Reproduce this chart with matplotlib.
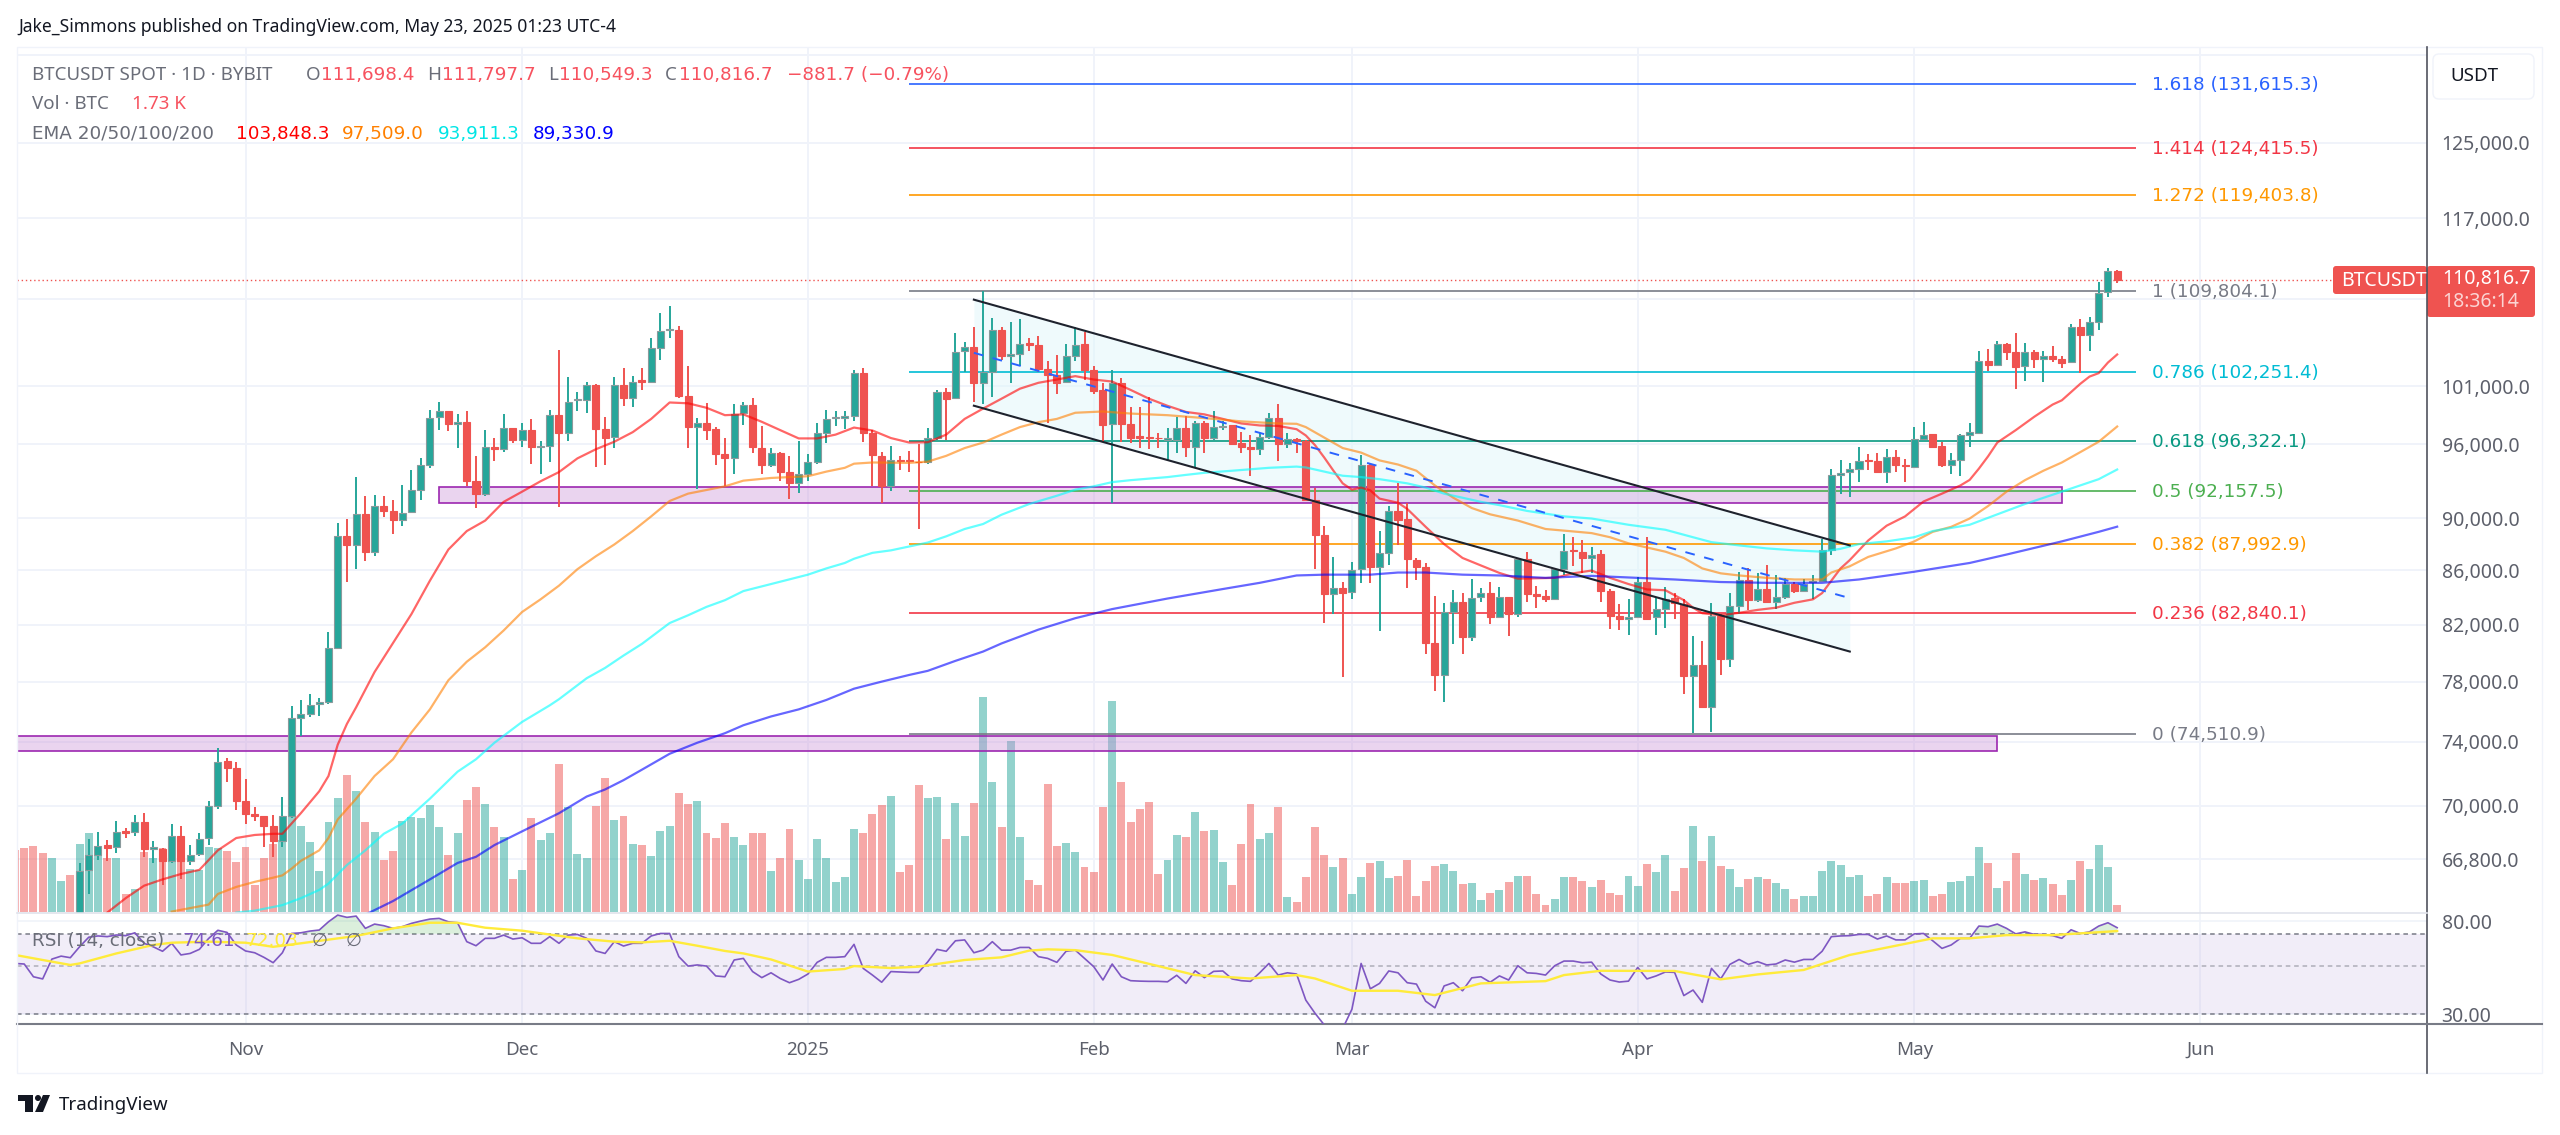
import numpy as np
import pandas as pd
import matplotlib
matplotlib.use("Agg")
import matplotlib.pyplot as plt
from matplotlib.patches import Rectangle, FancyBboxPatch, Polygon, Circle
from matplotlib.ticker import NullLocator

plt.rcParams['font.family'] = ['Noto Sans', 'DejaVu Sans']

W, H = 2560, 1135
UP = "#26a69a"
DOWN = "#ef5350"
GRID = "#f0f3fa"
TEXT = "#6a6d78"

# daily candles from 2024-10-14 to 2025-05-23
opens = [
    63740, 66140, 67060, 67600, 67480, 68460, 68410, 69000, 67400, 67380,
    66690, 68140, 66690, 67110, 68040, 69970, 72760, 72340, 70300, 69510,
    69350, 68760, 67870, 69350, 75560, 75860, 76500, 76660, 80340, 88640,
    87880, 90360, 87370, 90960, 90600, 89870, 90470, 92270, 94320, 98300,
    98870, 97700, 97910, 92950, 91910, 95790, 95620, 97420, 96390, 97170,
    95790, 95830, 98510, 96920, 99800, 99840, 101130, 97280, 96640, 101130,
    99990, 101530, 101380, 104480, 106080, 106120, 100170, 97460, 97810, 97280,
    95180, 94900, 98690, 99400, 95720, 94320, 95280, 93700, 92850, 93570,
    94560, 96990, 98230, 98270, 98370, 102190, 96990, 95040, 92540, 94730,
    94660, 94560, 94490, 96570, 100500, 99950, 104130, 104550, 101310, 102300,
    106120, 103720, 103910, 104860, 104750, 102560, 102040, 101340, 103680, 104790,
    102440, 100640, 97700, 101310, 97740, 96670, 96640, 96570, 96390, 96360,
    97420, 95760, 97840, 96570, 97490, 97600, 96080, 95760, 95650, 96640,
    98270, 96000, 96430, 96290, 91450, 88670, 84220, 84680, 84350, 86070,
    94320, 86220, 87310, 90600, 89900, 86800, 86220, 80690, 78470, 82910,
    83640, 81130, 83980, 84320, 82580, 84010, 82730, 86830, 84220, 84070,
    83890, 86070, 87530, 87400, 86920, 87210, 84440, 82610, 82380, 82550,
    85140, 82520, 83150, 83920, 83520, 78380, 79180, 76280, 82610, 79580,
    83370, 85240, 83770, 84590, 83640, 83980, 84960, 84440, 85110, 85210,
    87500, 93430, 93670, 93940, 94730, 94590, 93740, 94970, 94250, 94150,
    96460, 96850, 95830, 94250, 94730, 96820, 96990, 103260, 102920, 104790,
    104090, 102780, 104060, 103450, 103720, 103450, 103180, 106420, 105620, 106830,
    109650, 111698.4,
]
closes = [
    66100, 67010, 67550, 67430, 68410, 68360, 69000, 67380, 67480, 66690,
    68140, 66690, 67060, 67970, 69970, 72710, 72340, 70300, 69510, 69350,
    68760, 67850, 69350, 75560, 75840, 76440, 76660, 80340, 88640, 87880,
    90330, 87340, 90960, 90600, 89870, 90430, 92240, 94290, 98270, 98870,
    97700, 97910, 92950, 91950, 95790, 95650, 97420, 96390, 97170, 95790,
    95900, 98510, 96920, 99660, 99880, 101130, 97280, 96570, 101130, 99950,
    101380, 101420, 104440, 106040, 106190, 100130, 97460, 97810, 97240, 95180,
    94900, 98620, 99400, 95760, 94320, 95250, 93740, 92780, 93540, 94560,
    96920, 98160, 98340, 98370, 102190, 96990, 95070, 92540, 94700, 94630,
    94590, 94490, 96500, 100470, 99910, 104060, 104510, 101310, 102260, 106080,
    103720, 103910, 104790, 104750, 102520, 102040, 101310, 103680, 104750, 102440,
    100570, 97630, 101310, 97740, 96570, 96570, 96530, 96500, 96500, 97420,
    95760, 97840, 96570, 97490, 97560, 96040, 95760, 95650, 96640, 98230,
    96000, 96430, 96290, 91450, 88700, 84220, 84680, 84320, 86040, 94250,
    86220, 87280, 90600, 89870, 86830, 86220, 80690, 78470, 82910, 83640,
    81110, 83920, 84320, 82580, 84010, 82730, 86830, 84220, 84070, 83830,
    86070, 87460, 87430, 86890, 87180, 84440, 82610, 82380, 82520, 85140,
    82400, 83150, 83890, 83550, 78380, 79150, 76280, 82610, 79580, 83370,
    85240, 83770, 84590, 83610, 83980, 84960, 84410, 84960, 85210, 87500,
    93430, 93640, 93940, 94630, 94630, 93700, 94970, 94250, 94180, 96460,
    96820, 95790, 94250, 94700, 96820, 97030, 103230, 102890, 104790, 104090,
    102740, 104060, 103450, 103720, 103450, 103070, 106420, 105620, 106840, 109590,
    111670, 110816.7,
]
highs = [
    66570, 67970, 68410, 67920, 69030, 68660, 69400, 69530, 67870, 67430,
    68850, 68760, 67620, 68360, 70300, 73630, 72970, 72710, 71620, 69920,
    69350, 69450, 70550, 76380, 76770, 77190, 76880, 81490, 89640, 89900,
    93260, 91780, 91810, 91780, 91450, 92610, 93910, 94830, 98970, 99580,
    98870, 98550, 98830, 95000, 97200, 96570, 98620, 97420, 97810, 98130,
    96320, 98970, 104290, 101860, 100490, 101380, 101160, 98340, 101860, 102590,
    101930, 102630, 105350, 107730, 108360, 106500, 102810, 98230, 99510, 97460,
    96570, 99470, 99580, 99950, 97560, 95690, 95350, 95000, 96320, 95180,
    97840, 98970, 98800, 98870, 102440, 102670, 97200, 95350, 95860, 95000,
    95480, 96040, 97390, 100680, 100860, 105850, 104970, 106420, 109760, 107200,
    106380, 106880, 107080, 105350, 105540, 103260, 103760, 104790, 106420, 105930,
    102780, 101310, 102440, 101710, 99190, 99150, 100060, 96920, 97350, 98340,
    98410, 97980, 97980, 98800, 97980, 97630, 97030, 96750, 96920, 98690,
    99470, 96990, 96570, 96390, 92440, 89350, 87020, 85140, 86610, 95070,
    94390, 88990, 90960, 92780, 91190, 86920, 86540, 84070, 83580, 84500,
    84290, 85300, 84680, 85140, 84740, 84010, 86920, 87400, 84840, 84530,
    86070, 88770, 88510, 88260, 87720, 87500, 84590, 83520, 83890, 85510,
    88510, 83980, 84740, 84290, 83830, 81220, 80840, 83580, 82760, 84290,
    85880, 86130, 85820, 86410, 85600, 85420, 85110, 85300, 85600, 88360,
    93980, 94730, 94420, 95760, 95180, 95280, 95590, 95520, 94770, 97460,
    97880, 96850, 96220, 95250, 96850, 97770, 104200, 104380, 105050, 104900,
    105850, 104900, 104290, 104210, 104590, 103720, 106690, 107080, 107270, 110690,
    112000, 111797.7,
]
lows = [
    63700, 64790, 66760, 66690, 67180, 68040, 68170, 66890, 66570, 65310,
    66570, 65620, 66450, 66990, 67620, 69790, 71450, 69710, 68850, 69030,
    67500, 66890, 67500, 69270, 74400, 75640, 75720, 76500, 80250, 85110,
    86070, 86670, 87080, 90080, 88770, 89410, 90400, 91450, 94050, 97200,
    97100, 95690, 92540, 90800, 91780, 94630, 95350, 96110, 95760, 94390,
    93570, 94560, 90870, 96290, 98830, 98690, 94150, 94320, 95690, 99290,
    99220, 100680, 101310, 103340, 105390, 99950, 95690, 92340, 96390, 94320,
    92540, 93570, 97630, 95250, 93540, 94150, 92950, 91550, 92010, 92950,
    94390, 96110, 97530, 97280, 97980, 96220, 92540, 91220, 92180, 93880,
    93740, 89150, 94390, 96390, 96390, 99880, 102260, 99660, 99470, 100060,
    103370, 101310, 102810, 104130, 102260, 97810, 100320, 101310, 103260, 101600,
    100280, 96220, 91220, 96220, 96150, 95690, 95590, 95690, 94660, 95280,
    94930, 94080, 95250, 96360, 97200, 95970, 95250, 93400, 95070, 96430,
    94630, 95690, 95280, 91390, 86070, 82140, 82730, 78300, 83830, 85050,
    85050, 81550, 86380, 87880, 84680, 85270, 79950, 77340, 76600, 80630,
    79950, 80840, 83640, 82020, 82460, 81190, 82550, 83670, 83220, 83670,
    83830, 85600, 86290, 85820, 85820, 83610, 81670, 81580, 81280, 82460,
    82320, 81280, 81730, 82380, 77160, 74570, 76280, 74630, 78470, 79010,
    82760, 83060, 83670, 83580, 83120, 83830, 84290, 84380, 83890, 85140,
    87150, 91950, 91720, 92880, 93910, 93600, 92780, 93740, 92920, 94080,
    96360, 95760, 94150, 93540, 93400, 95790, 96920, 102330, 102850, 103370,
    100790, 101490, 102630, 101420, 103140, 102630, 103070, 102150, 104210, 106080,
    109200, 110549.3,
]

# volume in thousand BTC; the first seven bars are from before the first candle
volumes_before = [15.4, 15.9, 16.4, 14.6, 13.5, 7.7, 9.1]
volumes_before_up = [False, False, False, False, True, True, False]
volumes = [
    16.8, 19.5, 15.9, 13.3, 13.5, 4.6, 5.8, 14.8, 13.3, 15.9,
    12.8, 16.9, 10.8, 10.4, 16.1, 15.9, 15.1, 12.5, 16.1, 6.6,
    13.5, 16.8, 17.9, 30.0, 21.3, 17.3, 10.1, 22.2, 28.3, 34.0,
    30.0, 22.4, 19.9, 12.8, 15.1, 22.5, 23.6, 23.2, 26.6, 21.0,
    14.1, 19.5, 27.8, 30.9, 26.8, 21.0, 18.7, 8.2, 10.5, 23.4,
    17.8, 19.6, 36.7, 25.9, 14.5, 13.5, 26.2, 33.2, 22.9, 23.7,
    16.8, 16.6, 14.0, 20.0, 21.2, 29.5, 26.7, 27.6, 19.7, 18.4,
    22.0, 18.7, 16.5, 19.7, 19.5, 10.3, 13.5, 20.5, 12.8, 8.2,
    18.2, 13.4, 7.5, 8.6, 20.5, 19.5, 24.3, 26.4, 28.7, 10.0,
    11.6, 31.5, 28.3, 28.5, 18.2, 26.9, 18.9, 26.9, 53.2, 32.3,
    21.1, 42.3, 18.7, 8.0, 6.8, 31.6, 16.4, 17.0, 14.8, 11.2,
    9.9, 26.0, 52.1, 32.3, 22.3, 25.5, 27.2, 9.5, 13.0, 19.0,
    18.5, 24.8, 20.1, 20.2, 12.3, 6.8, 16.8, 26.7, 18.1, 19.6,
    25.9, 3.8, 2.4, 8.6, 21.0, 14.1, 11.2, 13.5, 4.6, 8.8,
    12.2, 12.6, 8.4, 8.9, 12.8, 4.1, 7.6, 11.3, 11.8, 10.1,
    7.0, 7.2, 3.0, 4.7, 5.4, 7.4, 8.9, 8.9, 4.6, 1.8,
    3.3, 8.8, 8.6, 7.6, 6.2, 8.0, 4.8, 4.2, 8.9, 6.5,
    11.8, 9.9, 14.1, 5.3, 11.0, 21.3, 12.6, 18.8, 11.4, 10.6,
    6.2, 8.1, 8.7, 8.2, 7.2, 5.8, 3.3, 3.9, 3.9, 10.1,
    12.6, 11.6, 8.7, 9.3, 4.0, 4.5, 8.7, 7.2, 7.2, 7.8,
    8.0, 3.9, 4.5, 7.4, 7.6, 8.9, 16.1, 12.1, 5.9, 7.6,
    14.7, 9.4, 7.9, 8.4, 6.9, 4.2, 8.0, 12.6, 10.6, 16.6,
    11.2, 1.73,
]

# moving averages, sampled at candle numbers (1 = first candle)
ema20_at = [4, 6, 8, 10, 12, 14, 16, 18, 20, 22, 23, 25, 27, 28, 29, 30, 31, 33, 35, 37,
            39, 41, 43, 45, 47, 49, 51, 53, 55, 57, 59, 61, 63, 65, 67, 69, 71, 73, 75, 77,
            79, 81, 83, 85, 87, 89, 91, 93, 95, 97, 99, 101, 103, 105, 107, 109, 111, 113, 115, 117,
            119, 121, 123, 125, 127, 129, 131, 133, 134, 135, 136, 137, 138, 139, 140, 141, 142, 144, 145, 147,
            149, 151, 153, 155, 157, 159, 161, 163, 165, 167, 169, 171, 173, 175, 176, 177, 179, 181, 183, 185,
            187, 189, 190, 191, 192, 193, 195, 197, 199, 201, 203, 205, 206, 207, 208, 209, 211, 213, 215, 216,
            217, 218, 219, 220, 221, 222]
ema20 = [63740, 64550, 65260, 65620, 65930, 66170, 67310, 68040, 68220, 68290, 68290, 69530, 70880, 71830, 73820, 75180, 76280, 78670, 80690, 82760,
         85210, 87560, 88990, 89810, 91290, 92110, 92950, 93700, 94830, 95590, 96220, 97030, 98160, 99580, 99510, 99120, 98480, 98550, 97910, 97200,
         96500, 96500, 96820, 97420, 97170, 96530, 96150, 96180, 96820, 98160, 99050, 99910, 100790, 101310, 101600, 101900, 101600, 101420, 100680, 99910,
         99290, 98760, 98550, 98160, 97770, 97600, 97560, 97280, 96750, 95930, 94900, 93810, 92780, 92270, 92440, 92210, 91550, 91220, 90730, 89320,
         87980, 86920, 86350, 85790, 85360, 85390, 85420, 85760, 85970, 85420, 84960, 84560, 84500, 83770, 83220, 82820, 82670, 82850, 83060, 83220,
         83580, 83830, 84290, 85210, 86130, 86760, 88260, 89410, 90140, 91320, 91950, 92610, 93060, 93980, 95000, 96150, 97200, 98340, 99400, 99770,
         100490, 101220, 101860, 102170, 103120, 103848.3]
ema50_at = [11, 15, 16, 18, 20, 22, 23, 24, 25, 27, 28, 29, 31, 33, 35, 37, 39, 41, 43, 45,
            47, 49, 51, 53, 55, 57, 59, 61, 63, 65, 67, 71, 73, 76, 80, 82, 84, 85, 87, 91,
            93, 95, 97, 99, 101, 103, 105, 107, 109, 112, 115, 119, 123, 127, 131, 133, 134, 136, 138, 140,
            142, 144, 146, 148, 150, 152, 154, 157, 160, 163, 165, 167, 169, 171, 173, 175, 177, 179, 181, 184,
            187, 190, 191, 193, 195, 198, 200, 202, 204, 206, 208, 210, 212, 214, 216, 218, 220, 222]
ema50 = [63800, 64190, 64790, 65190, 65480, 65720, 65850, 66240, 66690, 67310, 68040, 69150, 70420, 71830, 72890, 74620, 76140, 78100, 79380, 80390,
         81580, 82910, 83830, 84840, 86070, 87050, 87950, 88990, 90140, 91360, 91950, 92540, 93000, 93220, 93360, 93740, 94050, 94390, 94490, 94460,
         94560, 95040, 95690, 96150, 96820, 97460, 97880, 98160, 98690, 98800, 98620, 98480, 98230, 97950, 97770, 97740, 97460, 96570, 95690, 95310,
         94660, 94320, 93810, 92610, 91620, 90800, 90300, 89810, 89150, 88960, 88830, 88510, 88040, 87720, 87400, 86920, 86130, 85760, 85600, 85420,
         85300, 85300, 85820, 86290, 87000, 87650, 88190, 88930, 89320, 89970, 90960, 92110, 93040, 93810, 94490, 95350, 96220, 97509.0]
ema100_at = [18, 20, 23, 25, 27, 28, 30, 32, 34, 36, 39, 42, 44, 46, 49, 52, 53, 56, 58, 60,
             62, 65, 67, 69, 71, 73, 76, 80, 82, 84, 85, 87, 89, 93, 95, 97, 99, 101, 104, 107,
             109, 111, 113, 115, 119, 121, 123, 126, 130, 133, 134, 136, 138, 140, 142, 145, 147, 149, 151, 153,
             155, 158, 162, 165, 169, 173, 176, 178, 181, 184, 187, 190, 192, 194, 197, 200, 202, 206, 209, 212,
             216, 220, 222]
ema100 = [63740, 63850, 64160, 64550, 65020, 65380, 66450, 67310, 68290, 68900, 70420, 72100, 72890, 73950, 75310, 76410, 76820, 78240, 78950, 79810,
          80630, 82110, 82670, 83280, 83770, 84440, 84960, 85660, 86130, 86540, 86860, 87310, 87500, 88100, 88580, 89150, 89540, 90270, 91120, 91780,
          92270, 92540, 92880, 93040, 93290, 93470, 93640, 93810, 94050, 94150, 94080, 93740, 93400, 93290, 93120, 92780, 92440, 91950, 91620, 91290,
          91030, 90570, 90140, 89970, 89480, 89090, 88510, 88130, 87880, 87650, 87500, 87400, 87620, 87980, 88190, 88510, 88990, 89480, 90300, 91120,
          92110, 93120, 93911.3]
ema200_at = [32, 35, 39, 42, 44, 46, 50, 53, 56, 58, 60, 62, 65, 68, 71, 73, 76, 79, 82, 85,
             88, 91, 93, 96, 99, 101, 105, 109, 113, 119, 125, 129, 133, 136, 141, 144, 147, 151, 155, 160,
             165, 169, 174, 179, 184, 190, 194, 200, 206, 210, 216, 220, 222]
ema200 = [63630, 64390, 65620, 66570, 66930, 67620, 68710, 69530, 70550, 70990, 71570, 72230, 73240, 73950, 74570, 75090, 75670, 76140, 76770, 77530,
          78010, 78470, 78750, 79440, 80090, 80660, 81640, 82460, 83120, 83890, 84590, 85050, 85600, 85660, 85660, 85820, 85820, 85660, 85600, 85420,
          85570, 85450, 85300, 85110, 85050, 85050, 85300, 85880, 86540, 87180, 88190, 88930, 89330.9]

# RSI(14), one value a day, starts with the first volume bar
rsi = [
    51.2, 50.9, 44.5, 43.5, 53.6, 55.3, 54.4, 61.0, 67.5, 68.4, 67.9, 69.1, 68.6, 70.7, 63.3, 61.0, 58.2, 63.3, 56.0, 56.9,
    59.4, 66.6, 72.6, 71.0, 62.2, 58.4, 57.3, 54.6, 51.6, 57.3, 70.2, 70.7, 72.0, 72.8, 79.4, 85.2, 83.2, 84.3, 74.1, 77.5,
    76.2, 74.1, 75.4, 78.1, 80.0, 81.7, 82.3, 79.4, 78.6, 64.4, 61.7, 66.7, 66.7, 69.0, 66.2, 67.1, 63.3, 63.3, 67.9, 63.3,
    69.0, 69.5, 66.7, 58.4, 56.9, 64.4, 61.5, 63.3, 63.3, 68.4, 70.2, 70.2, 55.0, 49.8, 50.4, 49.8, 44.9, 44.5, 53.1, 54.0,
    47.0, 44.1, 46.4, 43.7, 41.8, 43.3, 45.8, 51.8, 54.6, 54.6, 55.0, 62.6, 48.6, 45.3, 42.0, 47.0, 46.8, 46.6, 46.6, 52.1,
    59.4, 58.2, 65.0, 65.6, 57.3, 58.9, 64.4, 58.9, 58.9, 60.6, 60.6, 55.0, 54.0, 51.8, 58.2, 58.9, 54.0, 49.5, 43.0,
    50.9, 44.5, 42.7, 42.5, 42.4, 42.4, 42.2, 45.2, 41.5, 47.4, 44.1, 47.1, 47.3, 43.5, 42.7, 42.4, 46.4, 51.2, 45.3, 46.4,
    45.8, 34.8, 30.3, 26.8, 24.5, 25.8, 31.6, 51.2, 39.2, 41.5, 47.3, 46.4, 41.8, 41.2, 34.4, 32.1, 40.4, 41.8, 38.4, 44.0,
    44.5, 42.0, 44.9, 43.0, 50.0, 46.4, 46.1, 45.3, 50.0, 52.5, 52.5, 51.6, 51.9, 45.8, 43.0, 42.1, 42.5, 49.1, 43.5, 44.9,
    46.8, 46.6, 36.5, 38.7, 34.0, 48.6, 43.5, 50.7, 53.4, 50.7, 52.2, 50.4, 50.9, 53.1, 51.9, 53.4, 53.4, 58.2, 67.9, 68.4,
    68.6, 69.5, 69.5, 66.2, 68.4, 65.6, 65.6, 69.9, 70.2, 65.0, 60.0, 62.2, 66.7, 66.7, 75.9, 75.4, 77.5, 74.1, 69.9, 71.4,
    69.5, 69.5, 68.6, 66.7, 73.0, 70.2, 71.4, 75.9, 78.6, 74.61,
]
rsi_ma_days = [-25, -22, -19, -18, -14, -10, -8, -4, 0, 3, 6, 12, 16, 20, 23, 26, 30, 36, 40, 43, 46, 49, 52, 54, 57, 61, 65, 66, 70, 73, 78, 82,
               85, 87, 90, 94, 99, 103, 109, 114, 116, 120, 125, 129, 134, 141, 143, 147, 155, 160, 164, 169, 174, 179, 183, 187, 191, 196, 203]
rsi_ma = [56.0, 53.1, 50.4, 51.2, 56.9, 62.2, 63.7, 64.4, 63.7, 61.0, 63.3, 68.4, 74.1, 78.6, 78.6, 74.6, 72.3, 66.7, 64.4, 63.9, 65.0, 61.7, 58.4, 56.9, 53.4, 47.0, 48.3, 49.8, 48.8, 49.5, 53.1, 54.6,
          58.6, 59.4, 58.9, 56.0, 49.8, 45.3, 43.7, 45.3, 43.7, 38.4, 38.4, 36.7, 41.5, 42.5, 45.3, 47.4, 47.3, 43.3, 45.6, 47.8, 56.0, 61.7, 66.7, 66.7, 69.0, 69.0, 72.03]

# fibonacci retracement
fib_ratios = ["1.618", "1.414", "1.272", "1", "0.786", "0.618", "0.5", "0.382", "0.236", "0"]
fib_prices = [131615.3, 124415.5, 119403.8, 109804.1, 102251.4, 96322.1, 92157.5, 87992.9, 82840.1, 74510.9]
fib_colors = ["#2962ff", "#f23645", "#ff9800", "#787b86", "#00bcd4", "#089981", "#4caf50", "#ff9800", "#f23645", "#787b86"]

# axis ticks
price_ticks = [135000, 125000, 117000, 109000, 101000, 96000, 90000, 86000, 82000, 78000, 74000, 70000, 66800]
price_hidden = [135000, 109000]
month_dates = ["2024-11-01", "2024-12-01", "2025-01-01", "2025-02-01", "2025-03-01", "2025-04-01", "2025-05-01", "2025-06-01"]
month_labels = ["Nov", "Dec", "2025", "Feb", "Mar", "Apr", "May", "Jun"]

origin = pd.Timestamp("2024-11-01")
first_day = (pd.Timestamp("2024-10-14") - origin).days
days = np.arange(first_day, first_day + len(opens))
vol_days = np.arange(first_day - len(volumes_before), days[-1] + 1)
month_days = [(pd.Timestamp(d) - origin).days for d in month_dates]

opens, closes, highs, lows = map(np.array, (opens, closes, highs, lows))
is_up = closes >= opens
vol_up = np.concatenate([volumes_before_up, is_up])
vol_all = np.array(volumes_before + volumes)

fig = plt.figure(figsize=(W / 100, H / 100), dpi=100, facecolor="white")


def pane(top, bottom, zorder):
    return fig.add_axes([17 / W, 1 - bottom / H, (2427 - 17) / W, (bottom - top) / H], zorder=zorder)


# same x scale for all panes: 9.22 px a day, Nov 1 at x=245.5
xlim = ((17 - 245.5) / 9.22, (2427 - 245.5) / 9.22)
price_lim = (63720, 135890)

ax_bg = pane(47, 913, 0)
ax_vol = pane(47, 913, 1)
ax = pane(47, 913, 2)
ax_rsi = pane(913, 1024, 2)
ax.patch.set_alpha(0)

# grid sits under the volume bars
ax_bg.set_yscale("log")
ax_bg.set_xlim(xlim)
ax_bg.set_ylim(price_lim)
ax_bg.yaxis.set_minor_locator(NullLocator())
ax_bg.set_yticks(price_ticks)
ax_bg.set_xticks(month_days)
ax_bg.tick_params(length=0, labelleft=False, labelbottom=False)
ax_bg.grid(True, color=GRID, linewidth=1.4)
for s in ax_bg.spines.values():
    s.set_visible(False)

# volume
ax_vol.bar(vol_days, vol_all, width=0.86, color=[UP if u else DOWN for u in vol_up], alpha=0.5, linewidth=0)
ax_vol.set_xlim(xlim)
ax_vol.set_ylim(-0.2, 213.9)
ax_vol.axis("off")

# main price pane
ax.set_yscale("log")
ax.set_xlim(xlim)
ax.set_ylim(price_lim)
ax.yaxis.set_minor_locator(NullLocator())
ax.set_yticks(price_ticks)
ax.set_yticklabels(["" if p in price_hidden else f"{p:,.1f}" for p in price_ticks])
ax.yaxis.tick_right()
ax.tick_params(axis="y", length=0, pad=10.5, labelsize=14, labelcolor="#5d606b")
ax.set_xticks([])
for s in ax.spines.values():
    s.set_visible(False)

# channel
chan_days = [79, 174]
chan_upper = [108950, 87880]
chan_lower = [99300, 80090]
chan_mid = [104000, 83920]
ax.fill_between(chan_days, chan_lower, chan_upper, color="#e0f7fa", alpha=0.5, linewidth=0, zorder=1)

# purple zones
for d0, d1, p0, p1 in [(21, 197, 91220, 92510), (-30, 190, 73440, 74400)]:
    ax.add_patch(Rectangle((d0, p0), d1 - d0, p1 - p0, facecolor=(0.8, 0.58, 0.85, 0.4), edgecolor="none", zorder=2))
    ax.add_patch(Rectangle((d0, p0), d1 - d0, p1 - p0, fill=False, edgecolor="#9c27b0", linewidth=1.2, zorder=2))

# fibonacci lines
for p, c in zip(fib_prices, fib_colors):
    ax.plot([72, 205], [p, p], color=c, linewidth=1.2, zorder=3, solid_capstyle="butt")

# candles
colors = [UP if u else DOWN for u in is_up]
ax.vlines(days, lows, highs, colors=colors, linewidth=1.4, zorder=4)
body_low = np.minimum(opens, closes)
body_high = np.maximum(opens, closes)
ax.bar(days, body_high - body_low, bottom=body_low, width=0.76, color=colors,
       edgecolor=["#8a9a9c" if u else DOWN for u in is_up], linewidth=0.8, zorder=4)

# moving averages
for at, vals, c in [(ema20_at, ema20, "#ff0000"), (ema50_at, ema50, "#ff8000"),
                    (ema100_at, ema100, "#00ffff"), (ema200_at, ema200, "#0000ff")]:
    ax.plot(days[np.array(at) - 1], vals, color=c, alpha=0.6, linewidth=1.6, zorder=5)

# channel lines on top
ax.plot(chan_days, chan_upper, color="#1e222d", linewidth=1.5, zorder=6)
ax.plot(chan_days, chan_lower, color="#1e222d", linewidth=1.5, zorder=6)
ax.plot(chan_days, chan_mid, color="#2962ff", linewidth=1.4, linestyle=(0, (5, 5)), zorder=6)

# last price
ax.axhline(closes[-1], color=DOWN, linewidth=1, linestyle=(0, (1, 2)), zorder=3)

# RSI pane
rsi_days = vol_days
rsi = np.array(rsi)
ax_rsi.set_yscale("log")
ax_rsi.set_xlim(xlim)
ax_rsi.set_ylim(27.06, 87.1)
ax_rsi.yaxis.set_minor_locator(NullLocator())
ax_rsi.set_yticks([80, 30])
ax_rsi.set_yticklabels(["80.00", "30.00"])
ax_rsi.yaxis.tick_right()
ax_rsi.tick_params(axis="y", length=0, pad=10.5, labelsize=14, labelcolor="#5d606b")
ax_rsi.set_xticks(month_days)
ax_rsi.set_xticklabels(month_labels)
ax_rsi.tick_params(axis="x", length=0, pad=12, labelsize=13.5, labelcolor="#5d606b")
ax_rsi.get_xticklabels()[2].set_fontweight("bold")
ax_rsi.grid(True, color=GRID, linewidth=1.2, zorder=0)
ax_rsi.set_axisbelow(True)
for s in ax_rsi.spines.values():
    s.set_visible(False)
ax_rsi.spines["bottom"].set_visible(True)
ax_rsi.spines["bottom"].set_color("#787b86")
ax_rsi.spines["bottom"].set_linewidth(1.5)
ax_rsi.axhspan(30, 70, color="#7e57c2", alpha=0.1, linewidth=0, zorder=1)
for lvl, a in [(70, 1), (50, 0.55), (30, 1)]:
    ax_rsi.axhline(lvl, color="#787b86", alpha=a, linewidth=1.1, linestyle=(0, (3, 2.5)), zorder=2)
ax_rsi.fill_between(rsi_days, 70, rsi, where=rsi > 70, interpolate=True, color="#4caf50", alpha=0.2, linewidth=0, zorder=2)
ax_rsi.plot(rsi_days, rsi, color="#7e57c2", linewidth=1.2, zorder=3)
ax_rsi.plot(rsi_ma_days, rsi_ma, color="#ffeb3b", linewidth=1.7, zorder=4)

# overlay in figure pixels for header, tags and logo
ov = fig.add_axes([0, 0, 1, 1], zorder=10)
ov.set_xlim(0, W)
ov.set_ylim(H, 0)
ov.axis("off")
ov.patch.set_alpha(0)

# frame and right axis
ov.add_patch(Rectangle((17, 47), 2542 - 17, 1073 - 47, fill=False, edgecolor="#f0f3fa", linewidth=1))
ov.plot([2427, 2427], [47, 1073], color="#50535e", linewidth=1.2)
ov.plot([17, 2427], [913, 913], color="#e0e3eb", linewidth=1.2)
ov.plot([2427, 2542], [1024, 1024], color="#787b86", linewidth=1.5)


def label(x, y, s, color=TEXT, size=13.5, **kw):
    ov.text(x, y, s, color=color, fontsize=size, va="center", ha="left", **kw)


def number(x, y, s, color=TEXT):
    # numbers in the reference run wider than Noto Sans digits
    label(x, y, s, color=color, size=13.2, family="DejaVu Sans")


label(18, 27, "Jake_Simmons published on TradingView.com, May 23, 2025 01:23 UTC-4", color="#131722", size=12.6)

label(32, 75, "BTCUSDT SPOT · 1D · BYBIT")
for x, s in [(306, "O"), (427, "H"), (548, "L"), (665, "C")]:
    label(x, 75, s)
for x, s in [(321, "111,698.4"), (442, "111,797.7"), (559, "110,549.3"), (679, "110,816.7"), (787, "−881.7 (−0.79%)")]:
    number(x, 75, s, color="#f7525f")
label(32, 104, "Vol · BTC")
label(132, 104, "1.73 K", color="#f7525f")
number(32, 134, "EMA 20/50/100/200")
for x, s, c in [(236, "103,848.3", "#ff0000"), (341.5, "97,509.0", "#ff8000"), (437.5, "93,911.3", "#00e5e5"), (532.5, "89,330.9", "#0000ff")]:
    number(x, 134, s, color=c)

number(32, 941, "RSI (14, close)")
number(182, 941, "74.61", color="#7e57c2")
number(245.5, 941, "72.03", color="#ffeb3b")
number(312, 941, "∅")
number(346, 941, "∅")

# fib labels follow the price scale
for r, p, c in zip(fib_ratios, fib_prices, fib_colors):
    y = ax.transData.transform((0, p))[1]
    number(2152, H - y + 1, f"{r} ({p:,.1f})", color=c)

# price tags
ov.add_patch(FancyBboxPatch((2333, 266), 94, 28, boxstyle="round,pad=0,rounding_size=3", facecolor=DOWN, edgecolor="none"))
ov.add_patch(FancyBboxPatch((2427, 266), 108, 51, boxstyle="round,pad=0,rounding_size=3", facecolor=DOWN, edgecolor="none"))
label(2341, 280.5, "BTCUSDT", color="white", size=14)
label(2442, 279, f"{closes[-1]:,.1f}", color="white", size=14)
label(2442, 302, "18:36:14", color="#fbd4d3", size=14)

# USDT button
ov.add_patch(FancyBboxPatch((2433, 54), 101, 45, boxstyle="round,pad=0,rounding_size=6", facecolor="white", edgecolor="#f0f3fa", linewidth=1))
label(2450, 76, "USDT", color="#131722", size=13.5)

# TradingView logo
ov.add_patch(Polygon([(18, 1095), (33, 1095), (33, 1112), (25, 1112), (25, 1101), (18, 1101)], closed=True, facecolor="#131722", edgecolor="none"))
ov.add_patch(Circle((38, 1098), 3, facecolor="#131722", edgecolor="none"))
ov.add_patch(Polygon([(43, 1095), (50, 1095), (43, 1112), (35, 1112)], closed=True, facecolor="#131722", edgecolor="none"))
label(59, 1105, "TradingView", color="#131722", size=13.5)

fig.savefig("out.png", dpi=100)
